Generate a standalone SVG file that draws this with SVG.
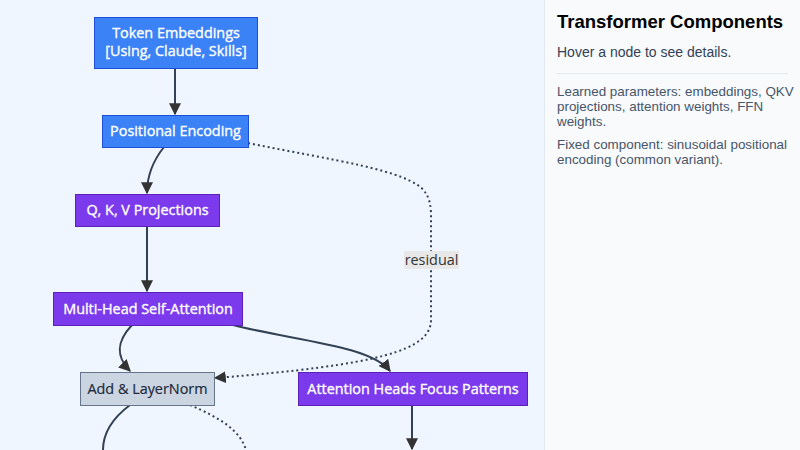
<svg xmlns="http://www.w3.org/2000/svg" width="800" height="450" viewBox="0 0 800 450">
<defs>
<style>
.bg{fill:#eff6ff}
.nb{fill:#3b82f6;stroke:#1d4ed8;stroke-width:1}
.np{fill:#7c3aed;stroke:#5b21b6;stroke-width:1}
.ng{fill:#cbd5e1;stroke:#64748b;stroke-width:1}
.tw{font-family:"Open Sans","Liberation Sans",Arial,sans-serif;font-size:14.4px;fill:#ffffff;stroke:#ffffff;stroke-width:0.35;text-anchor:middle}
.td{font-family:"Open Sans","Liberation Sans",Arial,sans-serif;font-size:14.4px;fill:#1e293b;stroke:#1e293b;stroke-width:0.2;text-anchor:middle}
.e{fill:none;stroke:#334155;stroke-width:2}
.d{fill:none;stroke:#334155;stroke-width:2;stroke-dasharray:2 3}
.lbl{font-family:"Open Sans","Liberation Sans",Arial,sans-serif;font-size:14.4px;fill:#333;text-anchor:middle}
.pt{font-family:"Liberation Sans",Arial,sans-serif;font-size:18.5px;font-weight:bold;fill:#000}
.ps{font-family:"Liberation Sans",Arial,sans-serif;font-size:14px;fill:#334155}
.pp{font-family:"Liberation Sans",Arial,sans-serif;font-size:13.4px;fill:#475569}
</style>
<marker id="ahb" viewBox="0 0 10 10" refX="9" refY="5" markerWidth="12" markerHeight="12" markerUnits="userSpaceOnUse" orient="auto">
<path d="M0,0 L10,5 L0,10 z" fill="#333"/>
</marker>
</defs>
<rect class="bg" x="0" y="0" width="800" height="450"/>

<g id="edges">
<path class="e" d="M175,68 L175,114" marker-end="url(#ahb)"/>
<path class="e" d="M164,147 C152,162 147,176 147,193" marker-end="url(#ahb)"/>
<path class="e" d="M147,226 L147,291" marker-end="url(#ahb)"/>
<path class="e" d="M132,325 C118,340 114,355 130,371" marker-end="url(#ahb)"/>
<path class="e" d="M233,325 C290,340 370,345 390,371" marker-end="url(#ahb)"/>
<path class="d" d="M248,143 C330,160 410,170 425,192 Q431,200 431,215 L431,320 C431,350 380,365 215,378" marker-end="url(#ahb)"/>
<path class="e" d="M412,405 L412,449" marker-end="url(#ahb)"/>
<path class="e" d="M130,405 C110,420 103,435 103,450"/>
<path class="d" d="M190,405 C220,418 240,430 246,450"/>
<rect x="404" y="251" width="55" height="18" fill="#e8e8e8"/>
<text class="lbl" x="431.5" y="265">residual</text>
</g>

<g id="node-token">
<rect class="nb" x="94.5" y="17.5" width="163" height="51"/>
<text class="tw" x="176" y="38">Token Embeddings</text>
<text class="tw" x="176" y="56">[Using, Claude, Skills]</text>
</g>
<g id="node-pos">
<rect class="nb" x="102.5" y="115.5" width="146" height="32"/>
<text class="tw" x="175.5" y="136">Positional Encoding</text>
</g>
<g id="node-qkv">
<rect class="np" x="75.5" y="194.5" width="144" height="32"/>
<text class="tw" x="147.5" y="215">Q, K, V Projections</text>
</g>
<g id="node-mhsa">
<rect class="np" x="53.5" y="292.5" width="189" height="33"/>
<text class="tw" x="148" y="314">Multi-Head Self-Attention</text>
</g>
<g id="node-add">
<rect class="ng" x="80.5" y="372.5" width="134" height="33"/>
<text class="td" x="147.5" y="394">Add &amp; LayerNorm</text>
</g>
<g id="node-heads">
<rect class="np" x="298.5" y="372.5" width="229" height="33"/>
<text class="tw" x="413" y="394">Attention Heads Focus Patterns</text>
</g>

<g id="panel">
<rect x="544" y="0" width="256" height="450" fill="#f8fafc"/>
<line x1="544.5" y1="0" x2="544.5" y2="450" stroke="#e2e8f0" stroke-width="1"/>
<text class="pt" x="557" y="28">Transformer Components</text>
<text class="ps" x="557" y="57">Hover a node to see details.</text>
<line x1="557" y1="73.5" x2="788" y2="73.5" stroke="#e2e8f0" stroke-width="1"/>
<text class="pp" x="557" y="96">Learned parameters: embeddings, QKV</text>
<text class="pp" x="557" y="111">projections, attention weights, FFN</text>
<text class="pp" x="557" y="126">weights.</text>
<text class="pp" x="557" y="149">Fixed component: sinusoidal positional</text>
<text class="pp" x="557" y="164">encoding (common variant).</text>
</g>
</svg>
